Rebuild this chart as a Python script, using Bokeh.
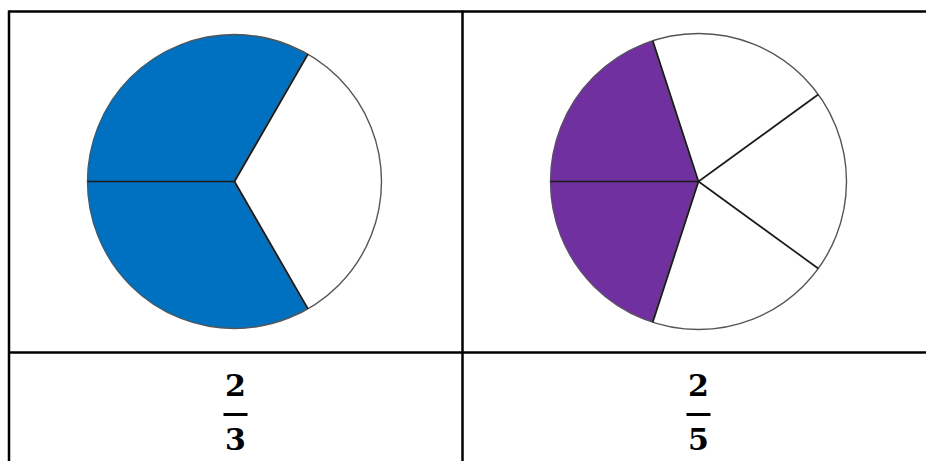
import numpy as np
from bokeh.plotting import figure
from bokeh.models import Range1d
from bokeh.core.properties import value
from bokeh.embed import file_html
from bokeh.resources import INLINE

# Data
labels = ["2/3", "2/5"]
numerators = [2, 2]
denominators = [3, 5]
fill_colors = ["#0070C0", "#7030A0"]

W, H = 926, 461
p = figure(width=W, height=H, output_backend="svg", toolbar_location=None,
           x_range=Range1d(0, W), y_range=Range1d(0, H),
           min_border=0, min_border_left=0, min_border_right=0,
           min_border_top=0, min_border_bottom=0)
p.axis.visible = False
p.grid.visible = False
p.outline_line_color = None
p.background_fill_color = "white"

def py(page_y):
    return H - page_y

centers_x = [234, 698]
center_y = py(181)
radii = [147, 148]

for cx, r, n, d, col in zip(centers_x, radii, numerators, denominators, fill_colors):
    step = 2 * np.pi / d
    start0 = np.pi - n * step / 2
    starts = [start0 + i * step for i in range(d)]
    ends = [s + step for s in starts]
    colors = [col if i < n else "white" for i in range(d)]
    p.wedge(x=[cx] * d, y=[center_y] * d, radius=r, start_angle=starts, end_angle=ends,
            fill_color=colors, line_color=None)
    # outer circle
    p.circle(x=[cx], y=[center_y], radius=r, fill_color=None, line_color="#555555", line_width=1.4)
    # radial lines
    xs = [[cx, cx + r * np.cos(a)] for a in starts]
    ys = [[center_y, center_y + r * np.sin(a)] for a in starts]
    p.multi_line(xs=xs, ys=ys, line_color="#1a1a1a", line_width=1.7)

# Table lines
p.segment(x0=[8], y0=[py(11)], x1=[926], y1=[py(11)], line_color="black", line_width=2.5)
p.segment(x0=[8], y0=[py(352)], x1=[926], y1=[py(352)], line_color="black", line_width=2.5)
p.segment(x0=[8.5, 462], y0=[py(10), py(10)], x1=[8.5, 462], y1=[py(461), py(461)],
          line_color="black", line_width=2.5)

# Fractions
frac_x = [235, 698]
nums = [str(v) for v in numerators]
dens = [str(v) for v in denominators]
p.text(x=frac_x, y=[py(384)] * 2, text=nums, text_align="center", text_baseline="middle",
       text_font=value("DejaVu Serif"), text_font_style="bold", text_font_size="30px", text_color="black")
p.text(x=frac_x, y=[py(438)] * 2, text=dens, text_align="center", text_baseline="middle",
       text_font=value("DejaVu Serif"), text_font_style="bold", text_font_size="30px", text_color="black")
p.segment(x0=[x - 12 for x in frac_x], y0=[py(414)] * 2, x1=[x + 12 for x in frac_x], y1=[py(414)] * 2,
          line_color="black", line_width=3)

open("out.html", "w").write(file_html(p, INLINE))
